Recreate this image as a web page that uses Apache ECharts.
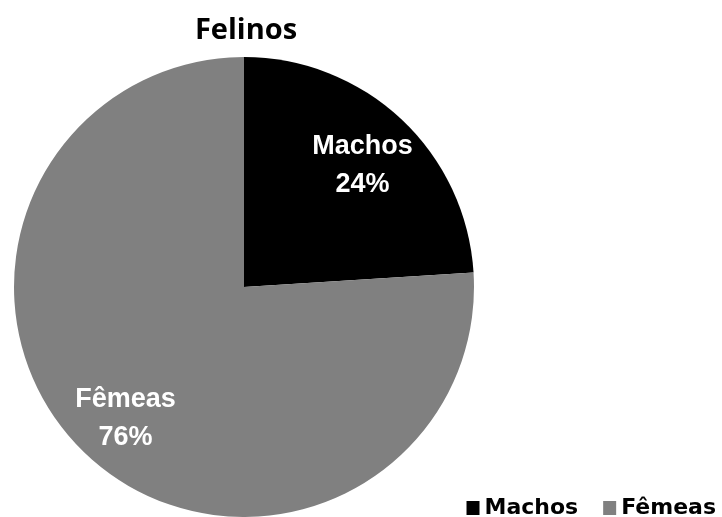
<!DOCTYPE html>
<html><head><meta charset="utf-8">
<script src="https://cdn.jsdelivr.net/npm/echarts@6/dist/echarts.min.js"></script>
<style>html,body{margin:0;padding:0;background:#fff}#c{width:722px;height:517px}</style>
</head><body><div id="c"></div>
<script>
const title = 'Felinos';
const categories = ['Machos', 'Fêmeas'];
const values = [24, 76];
const colors = ['#000000', '#808080'];

const data = categories.map((c, i) => ({ name: c, value: values[i], itemStyle: { color: colors[i] } }));
const chart = echarts.init(document.getElementById('c'), null, { renderer: 'canvas' });
chart.setOption({
  animation: false,
  title: {
    text: title, left: 241, top: 11, textAlign: 'center',
    textStyle: { fontFamily: 'Open Sans', fontWeight: 'bold', fontSize: 29, color: '#000' }
  },
  legend: {
    data: categories, right: 6, bottom: -2, padding: 0, icon: 'rect', itemWidth: 13, itemHeight: 14, itemGap: 25,
    textStyle: { fontFamily: 'DejaVu Sans', fontWeight: 'bold', fontSize: 22, color: '#000' }
  },
  series: [
    {
      type: 'pie', center: [244, 287], radius: [0, 230], startAngle: 90, clockwise: true,
      data: data, label: { show: false }, labelLine: { show: false }, emphasis: { disabled: true }
    },
    {
      type: 'pie', center: [244, 292], radius: [110, 230], startAngle: 90, clockwise: true, silent: true,
      data: categories.map((c, i) => ({ name: c, value: values[i], itemStyle: { color: 'rgba(0,0,0,0)' } })),
      legendHoverLink: false,
      label: {
        show: true, position: 'inside', formatter: '{b}\n{d}%', color: '#fff',
        fontFamily: 'Liberation Sans', fontWeight: 'bold', fontSize: 27, lineHeight: 38
      },
      labelLine: { show: false }, emphasis: { disabled: true }
    }
  ]
});
</script></body></html>
